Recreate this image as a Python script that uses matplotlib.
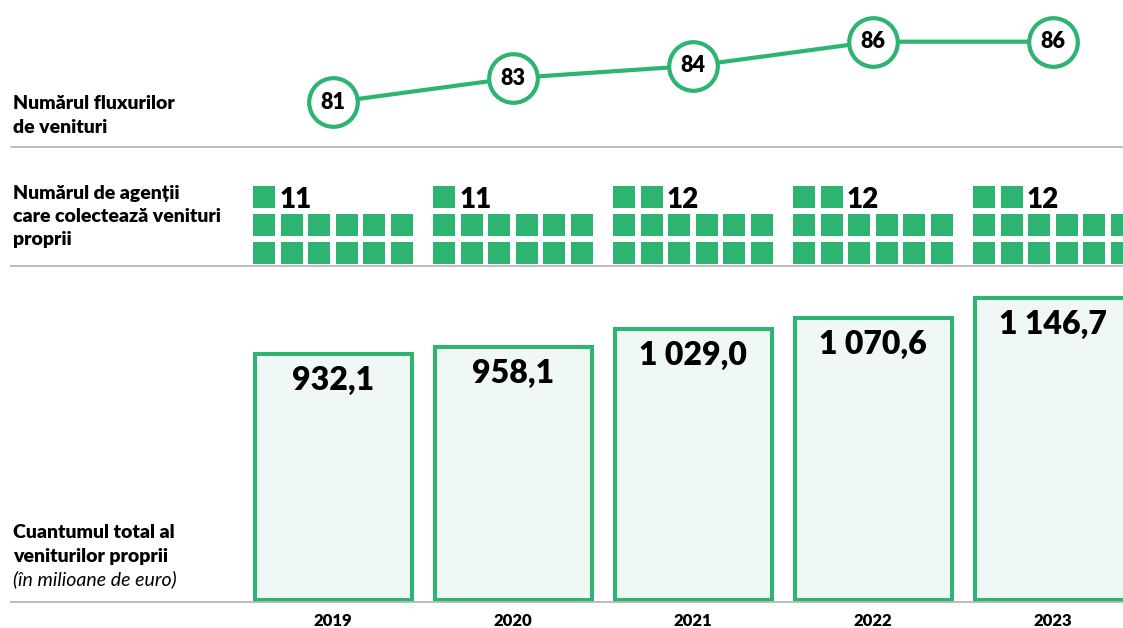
import matplotlib
matplotlib.use("Agg")
import matplotlib.pyplot as plt
from matplotlib.patches import Rectangle
from matplotlib.lines import Line2D
import matplotlib.transforms as mtransforms
import numpy as np

# ---------------- data ----------------
years = ["2019", "2020", "2021", "2022", "2023"]
revenue_streams = [81, 83, 84, 86, 86]
agencies = [11, 11, 12, 12, 12]
squares_top_row = [1, 1, 2, 2, 2]
squares_full_rows = [6, 6]
own_revenue = [932.1, 958.1, 1029.0, 1070.6, 1146.7]
revenue_labels = ["932,1", "958,1", "1 029,0", "1 070,6", "1 146,7"]

row_label_1 = ["Numărul fluxurilor", "de venituri"]
row_label_2 = ["Numărul de agenții", "care colectează venituri", "proprii"]
row_label_3 = ["Cuantumul total al", "veniturilor proprii"]
row_label_3_note = "(în milioane de euro)"

# ---------------- style ----------------
W, H = 1123, 628
GREEN = "#2db471"
LIGHT = "#eff8f4"
GRAY = "#b8b8b8"
WT = 'heavy'
plt.rcParams['font.family'] = ["Lato", "DejaVu Sans"]

fig = plt.figure(figsize=(W / 100, H / 100), dpi=100)


def fy(py):
    return 1 - py / H


def fx(px):
    return px / W


slot = 180.0
x0 = 333.0
xlim = (-x0 / slot, (W - x0) / slot)
xs = np.arange(len(years))


def make_ax(top, bottom):
    ax = fig.add_axes([0, fy(bottom), 1, (bottom - top) / H])
    ax.set_xlim(*xlim)
    ax.axis('off')
    return ax


# ---------------- line panel ----------------
ax1 = make_ax(0, 147)
ax1.set_ylim(77.31, 89.44)
ax1.plot(xs, revenue_streams, color=GREEN, lw=3, marker='o', ms=35,
         mfc='white', mec=GREEN, mew=3, clip_on=False)
for x, v in zip(xs, revenue_streams):
    ax1.text(x, v, str(v), ha='center', va='center', fontsize=15.5,
             fontweight=WT, color='black')

# ---------------- squares panel ----------------
ax2 = make_ax(147, 266)
ax2.set_ylim(266, 147)
sq_w = 22 / slot
pitch_x = 27.5 / slot
half = 80 / slot
rows_y = [186, 214, 242]
sq_h = 22
for i in range(len(years)):
    left = xs[i] - half
    counts = [squares_top_row[i]] + squares_full_rows
    for r, n in enumerate(counts):
        for j in range(n):
            ax2.add_patch(Rectangle((left + j * pitch_x, rows_y[r]), sq_w, sq_h,
                                    facecolor=GREEN, edgecolor='none'))
    ax2.text(left + squares_top_row[i] * pitch_x - 1 / slot, 207.5, str(agencies[i]),
             ha='left', va='baseline', fontsize=20, fontweight=WT, color='black')

# ---------------- bar panel ----------------
ax3 = make_ax(266, 599.5)
ax3.set_ylim(0, 333.5 / 0.2633)
ax3.bar(xs, own_revenue, width=157 / slot, color=LIGHT, edgecolor=GREEN,
        linewidth=2.9, clip_on=False)
for x, v, lab in zip(xs, own_revenue, revenue_labels):
    ax3.annotate(lab, (x, v), xytext=(0, -36 * 0.72), textcoords='offset points',
                 ha='center', va='baseline', fontsize=23, fontweight=WT, color='black')

trans = mtransforms.blended_transform_factory(ax3.transData, fig.transFigure)
for x, y in zip(xs, years):
    ax3.text(x, fy(626), y, transform=trans, ha='center', va='baseline',
             fontsize=12, fontweight=WT, color='black', clip_on=False)

# ---------------- separators ----------------
for py in (147, 266, 602):
    fig.add_artist(Line2D([fx(11), 1], [fy(py), fy(py)], color=GRAY, lw=1.3))

# ---------------- row labels ----------------
for txt, py in zip(row_label_1, [109, 133]):
    fig.text(fx(13), fy(py), txt, ha='left', va='baseline', fontsize=14, fontweight=WT)
for txt, py in zip(row_label_2, [199, 222, 245]):
    fig.text(fx(13), fy(py), txt, ha='left', va='baseline', fontsize=14, fontweight=WT)
for txt, py in zip(row_label_3, [538, 562]):
    fig.text(fx(13), fy(py), txt, ha='left', va='baseline', fontsize=14, fontweight=WT)
fig.text(fx(13), fy(585), row_label_3_note, ha='left', va='baseline', fontsize=14,
         style='italic')

fig.savefig("out.png", dpi=100)
